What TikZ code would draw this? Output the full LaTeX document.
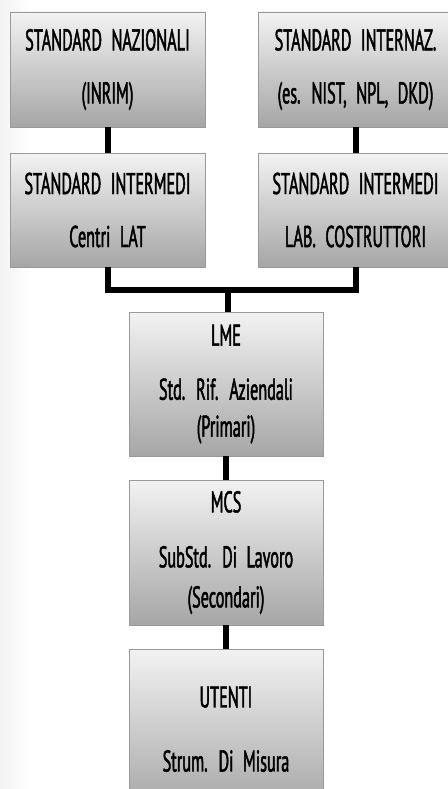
\documentclass[tikz,border=0pt]{standalone}
\usepackage{fontspec}
\setmainfont{PT Sans}[FakeStretch=0.54, FakeBold=1.5, WordSpace=2.2]
\usetikzlibrary{shadows}

\begin{document}
\begin{tikzpicture}[x=1pt,y=1pt,
    level/.style={draw=black!40, line width=0.8pt, top color=black!5, bottom color=black!35,
      minimum width=195pt, align=center, font=\fontsize{30}{30}\selectfont,
      drop shadow={shadow xshift=1.2pt, shadow yshift=-1.2pt, opacity=0.2}},
    link/.style={line width=6pt, line join=miter}]
  \useasboundingbox (0,0) rectangle (447,-789);
  % faint backdrop on the left
  \shade[left color=black!5, right color=white] (0,0) rectangle (30,-789);

  % reference standards
  \node[level, minimum height=115pt] (naz) at (107.5,-69.5) {STANDARD NAZIONALI\\[23pt](INRIM)};
  \node[level, minimum height=115pt] (inter) at (355.5,-69.5) {STANDARD INTERNAZ.\\[23pt](es. NIST, NPL, DKD)};

  % intermediate standards
  \node[level, minimum height=114pt] (lat) at (107.5,-210) {STANDARD INTERMEDI\\[23pt]Centri LAT};
  \node[level, minimum height=114pt] (costr) at (355.5,-210) {STANDARD INTERMEDI\\[23pt]LAB. COSTRUTTORI};

  % company chain
  \node[level, minimum height=144pt, minimum width=194pt] (lme) at (226,-384) {LME\\[24pt]Std. Rif. Aziendali\\[7pt](Primari)};
  \node[level, minimum height=145pt, minimum width=194pt] (mcs) at (226,-552.5) {MCS\\[25pt]SubStd. Di Lavoro\\[10pt](Secondari)};
  \node[level, minimum height=160pt, minimum width=194pt] (utenti) at (226,-729) {UTENTI\\[34pt]Strum. Di Misura};

  % connectors
  \coordinate (join) at (227.5,-290);
  \draw[link] (naz) -- (lat);
  \draw[link] (inter) -- (costr);
  \draw[link] (lat.south) |- (join) -| (costr.south);
  \draw[link] (join) -- (join |- lme.north);
  \draw[link] (lme) -- (mcs);
  \draw[link] (mcs) -- (utenti);
\end{tikzpicture}
\end{document}
